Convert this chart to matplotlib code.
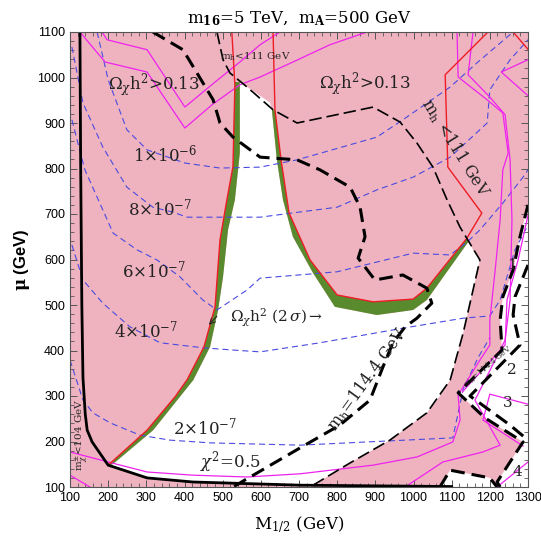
import matplotlib
matplotlib.use("Agg")
import matplotlib.pyplot as plt
from matplotlib.ticker import MultipleLocator

plt.rcParams['mathtext.fontset'] = 'dejavuserif'

PINK = '#efb3c0'
GREEN = '#5a8a2e'
RED = '#ee1c24'
MAGENTA = '#ee22ee'
BLUE = '#4a4ae0'

# ---- regions (M_1/2 [GeV], mu [GeV]) ----
# allowed (white) area around the funnel and below the relic-density lobe
white_main_M = [545, 545, 532, 514, 501, 488, 467, 423, 381, 318, 212, 200,
                302, 422, 703, 729,
                834, 938, 1035, 1062, 1096, 1130, 1174, 1156, 1148,
                1143, 1035, 999, 904, 794, 737, 684, 658, 642, 629, 624]
white_main_mu = [990, 834, 731, 665, 562, 489, 408, 335, 291, 225, 150, 146,
                 120, 111, 104, 100,
                 153, 203, 263, 291, 335, 438, 599, 621, 634,
                 638, 511, 489, 478, 496, 570, 650, 731, 819, 929, 945]

white_right_M = [1300, 1279, 1261, 1234, 1227, 1232, 1117, 1187, 1287, 1219, 1227, 1300]
white_right_mu = [720, 650, 577, 518, 467, 401, 307, 252, 199, 111, 100, 100]

white_pocket_M = [1069, 1096, 1200, 1219]
white_pocket_mu = [100, 137, 120, 100]

# Omega h^2 = 0.13 boundaries
red_left_M = [524, 532, 527, 511, 493, 480, 451, 407, 375, 302, 200]
red_left_mu = [1100, 984, 804, 731, 643, 496, 408, 336, 298, 225, 148]
red_right_M = [632, 637, 653, 674, 729, 800, 894, 999, 1035, 1140, 1179, 1090, 1083, 1195]
red_right_mu = [1100, 929, 819, 702, 599, 522, 507, 513, 537, 647, 702, 803, 1006, 1100]
red_corner_M = [1261, 1300]
red_corner_mu = [1100, 1062]

# 2 sigma WMAP bands
green_left_outer_M = [545, 545, 532, 514, 501, 488, 467, 423, 381, 318, 212, 204]
green_left_outer_mu = [990, 834, 731, 665, 562, 489, 408, 335, 291, 225, 150, 148]
green_left_inner_M = [532, 527, 511, 493, 480, 451, 407, 375, 302, 200]
green_left_inner_mu = [990, 804, 731, 643, 496, 408, 336, 298, 225, 148]
green_right_outer_M = [629, 642, 658, 684, 737, 794, 904, 999, 1035, 1143]
green_right_outer_mu = [929, 819, 731, 650, 570, 496, 478, 489, 511, 638]
green_right_inner_M = [637, 653, 674, 729, 800, 894, 999, 1035, 1140]
green_right_inner_mu = [929, 819, 702, 599, 522, 507, 513, 537, 647]

# chargino mass bound
lep_M = [126, 128, 131, 134, 140, 145, 158, 200, 302, 422, 703, 1100]
lep_mu = [1100, 800, 500, 340, 260, 225, 199, 148, 120, 111, 104, 101]

# Higgs mass contours
mh1144_M = [317, 396, 475, 493, 527, 598, 695, 755, 834, 860, 873, 855, 899, 972,
            1035, 1048, 1009, 978, 946, 920, 886, 807, 703, 527]
mh1144_mu = [1100, 1061, 951, 900, 869, 825, 819, 797, 759, 715, 650, 603, 555, 566,
             537, 504, 471, 452, 417, 364, 291, 236, 186, 100]
mh111_M = [485, 501, 519, 564, 632, 695, 894, 965, 1009, 1051, 1088, 1122, 1174,
           1130, 1096, 1035, 938, 834, 729]
mh111_mu = [1100, 1039, 1010, 979, 929, 900, 935, 902, 856, 803, 731, 671, 599,
            438, 335, 263, 203, 153, 100]
mh_r1_M = [1300, 1279, 1261, 1234, 1227, 1232, 1117, 1187, 1287, 1219, 1227]
mh_r1_mu = [720, 650, 577, 518, 467, 401, 307, 252, 199, 111, 100]
mh_r2_M = [1300, 1266, 1261, 1279, 1148, 1253, 1300]
mh_r2_mu = [588, 518, 478, 412, 300, 236, 203]
mh_pocket_M = [1069, 1096, 1200, 1219]
mh_pocket_mu = [100, 137, 120, 100]

# chi^2 contours
chi05_M = [100, 200, 302, 422, 564, 703, 894, 1009, 1103, 1122, 1117, 1174, 1200, 1200,
           1214, 1227, 1234, 1248, 1234, 1193, 1117, 1114]
chi05_mu = [177, 155, 133, 126, 122, 129, 148, 166, 199, 247, 302, 379, 412, 467,
            577, 687, 797, 834, 922, 951, 1001, 1100]
chi_in_M = [978, 1077, 1182, 1227, 1161, 1214, 1240, 1253, 1258, 1253, 1240, 1200, 1143, 1156]
chi_in_mu = [100, 155, 177, 192, 291, 379, 423, 511, 687, 819, 918, 957, 1006, 1100]
chi_strip_M = [1300, 1274, 1245, 1240, 1128]
chi_strip_mu = [697, 599, 511, 412, 309]
chi_strip2_M = [1300, 1200, 1182, 1287]
chi_strip2_mu = [282, 304, 247, 190]
chi_corner_M = [1219, 1300]
chi_corner_mu = [100, 155]
chi_v_M = [1300, 1230, 1300]
chi_v_mu = [1039, 1012, 960]
chi_low_M = [100, 152]
chi_low_mu = [126, 100]
chi_tl1_M = [184, 197, 302, 401, 480, 545, 598, 650]
chi_tl1_mu = [1100, 1083, 1061, 935, 990, 1034, 1072, 1100]
chi_tl2_M = [126, 192, 302, 401, 472, 545, 598, 684, 781, 878]
chi_tl2_mu = [1100, 1034, 1012, 889, 940, 984, 1001, 1034, 1072, 1100]

# branching-ratio contours
br_1e6_M = [171, 200, 249, 302, 401, 493, 598, 695, 904, 972, 1096, 1166, 1261]
br_1e6_mu = [1100, 995, 885, 841, 812, 801, 803, 819, 869, 907, 979, 1032, 1100]
br_8e7_M = [105, 134, 186, 249, 317, 370, 407, 511, 598, 800, 904, 999, 1096, 1193, 1200, 1253, 1300]
br_8e7_mu = [1067, 944, 847, 759, 715, 704, 693, 693, 693, 715, 753, 781, 825, 900, 973, 1039, 1083]
br_6e7_M = [105, 139, 186, 213, 276, 328, 388, 448, 485, 564, 598, 800, 999, 1096, 1140, 1174, 1234, 1287, 1300]
br_6e7_mu = [907, 797, 709, 658, 621, 599, 562, 511, 489, 533, 559, 573, 614, 610, 638, 665, 724, 781, 797]
br_4e7_M = [105, 134, 186, 257, 336, 448, 527, 598, 755, 972, 1130, 1200, 1227, 1266, 1300]
br_4e7_mu = [632, 555, 504, 452, 417, 406, 401, 397, 417, 449, 471, 476, 511, 621, 676]
br_2e7_M = [100, 134, 160, 205, 283, 362, 467, 703, 1103, 1130, 1169, 1200]
br_2e7_mu = [379, 291, 263, 241, 214, 203, 197, 192, 208, 314, 384, 428]

fig = plt.figure(figsize=(5.41, 5.39), dpi=100)
ax = fig.add_axes([70 / 541, 52 / 539, 458 / 541, 455 / 539])
ax.set_xlim(100, 1300)
ax.set_ylim(100, 1100)
ax.set_facecolor(PINK)

for M, mu in [(white_main_M, white_main_mu), (white_right_M, white_right_mu),
              (white_pocket_M, white_pocket_mu)]:
    ax.fill(M, mu, color='white', lw=0, zorder=1)

ax.fill(green_left_outer_M + green_left_inner_M[::-1],
        green_left_outer_mu + green_left_inner_mu[::-1], color=GREEN, lw=0, zorder=2)
ax.fill(green_right_outer_M + green_right_inner_M[::-1],
        green_right_outer_mu + green_right_inner_mu[::-1], color=GREEN, lw=0, zorder=2)

blue_kw = dict(color=BLUE, lw=0.8, dashes=(5.5, 3.5), zorder=3)
for M, mu in [(br_1e6_M, br_1e6_mu), (br_8e7_M, br_8e7_mu), (br_6e7_M, br_6e7_mu),
              (br_4e7_M, br_4e7_mu), (br_2e7_M, br_2e7_mu)]:
    ax.plot(M, mu, **blue_kw)

mag_kw = dict(color=MAGENTA, lw=0.9, zorder=4)
for M, mu in [(chi05_M, chi05_mu), (chi_in_M, chi_in_mu), (chi_strip_M, chi_strip_mu),
              (chi_strip2_M, chi_strip2_mu), (chi_corner_M, chi_corner_mu),
              (chi_v_M, chi_v_mu), (chi_low_M, chi_low_mu),
              (chi_tl1_M, chi_tl1_mu), (chi_tl2_M, chi_tl2_mu)]:
    ax.plot(M, mu, **mag_kw)

red_kw = dict(color=RED, lw=1.0, zorder=5)
ax.plot(red_left_M, red_left_mu, **red_kw)
ax.plot(red_right_M, red_right_mu, **red_kw)
ax.plot(red_corner_M, red_corner_mu, **red_kw)

ax.plot(lep_M, lep_mu, color='black', lw=2.0, zorder=6, solid_joinstyle='miter')

thick_kw = dict(color='black', lw=2.2, dashes=(4.5, 2.3), zorder=6)
ax.plot(mh1144_M, mh1144_mu, **thick_kw)
ax.plot(mh_r1_M, mh_r1_mu, **thick_kw)
ax.plot(mh_r2_M, mh_r2_mu, **thick_kw)
ax.plot(mh_pocket_M, mh_pocket_mu, **thick_kw)
ax.plot(mh111_M, mh111_mu, color='black', lw=1.2, dashes=(7.5, 3.0), zorder=6)

# ---- labels ----
serif = 'DejaVu Serif'
tk = dict(family=serif, color='#222222', zorder=8, ha='center', va='center')
ax.text(320, 984, r'$\Omega_\chi$h$^2$>0.13', fontsize=12, **tk)
ax.text(873, 986, r'$\Omega_\chi$h$^2$>0.13', fontsize=12, **tk)
ax.text(585, 1045, r'm$_{\rm h}$<111 GeV', fontsize=7.5, **tk)
ax.text(1109, 845, r'm$_{\rm h}$ <111 GeV', fontsize=11.5, rotation=-58, **tk)
ax.text(349, 830, r'1$\times$10$^{-6}$', fontsize=12, **tk)
ax.text(336, 713, r'8$\times$10$^{-7}$', fontsize=12, **tk)
ax.text(320, 577, r'6$\times$10$^{-7}$', fontsize=12, **tk)
ax.text(299, 443, r'4$\times$10$^{-7}$', fontsize=12, **tk)
ax.text(454, 230, r'2$\times$10$^{-7}$', fontsize=12, **tk)
ax.text(519, 155, r'$\chi^2$=0.5', fontsize=12, **tk)
ax.text(640, 471, r'$\Omega_\chi$h$^2$ (2$\,\sigma$)$\rightarrow$', fontsize=11, **tk)
ax.annotate('', xy=(459, 452), xytext=(490, 480),
            arrowprops=dict(arrowstyle='->', lw=0.7, color='#222222'), zorder=8)
ax.text(878, 336, r'm$_{\rm h}$=114.4 GeV', fontsize=11.5, rotation=54, **tk)
ax.text(1195, 364, r'm$_{\rm h}$=114.4 GeV', fontsize=5.5, rotation=40, **tk)
ax.text(133, 214, r'm$^{\pm}_{\chi}$<104 GeV', fontsize=7.5, rotation=90, **tk)
for lab, M, mu in [('1', 1258, 588), ('2', 1258, 357), ('3', 1248, 285), ('4', 1271, 133)]:
    ax.text(M, mu, lab, fontsize=11, **tk)

# ---- axes styling ----
ax.xaxis.set_major_locator(MultipleLocator(100))
ax.xaxis.set_minor_locator(MultipleLocator(20))
ax.yaxis.set_major_locator(MultipleLocator(100))
ax.yaxis.set_minor_locator(MultipleLocator(20))
ax.tick_params(which='both', direction='in', top=True, right=True, color='#555555')
ax.tick_params(which='major', length=5, width=0.7, labelsize=9)
ax.tick_params(which='minor', length=3, width=0.6)
for lab in ax.get_xticklabels() + ax.get_yticklabels():
    lab.set_family('Liberation Sans')
for s in ax.spines.values():
    s.set_color('#555555')
    s.set_linewidth(0.8)
    s.set_zorder(9)

ax.set_xlabel(r'M$_{1/2}$ (GeV)', family=serif, fontsize=12, labelpad=8)
ax.set_ylabel(r'$\mathbf{\mu}$ (GeV)', family='Liberation Sans', fontsize=12,
              fontweight='bold', labelpad=4)
ax.set_title(r'm$_{\mathbf{16}}$=5 TeV,  m$_{\mathbf{A}}$=500 GeV', family=serif,
             fontsize=12, pad=6)

fig.savefig('out.png', dpi=100)
